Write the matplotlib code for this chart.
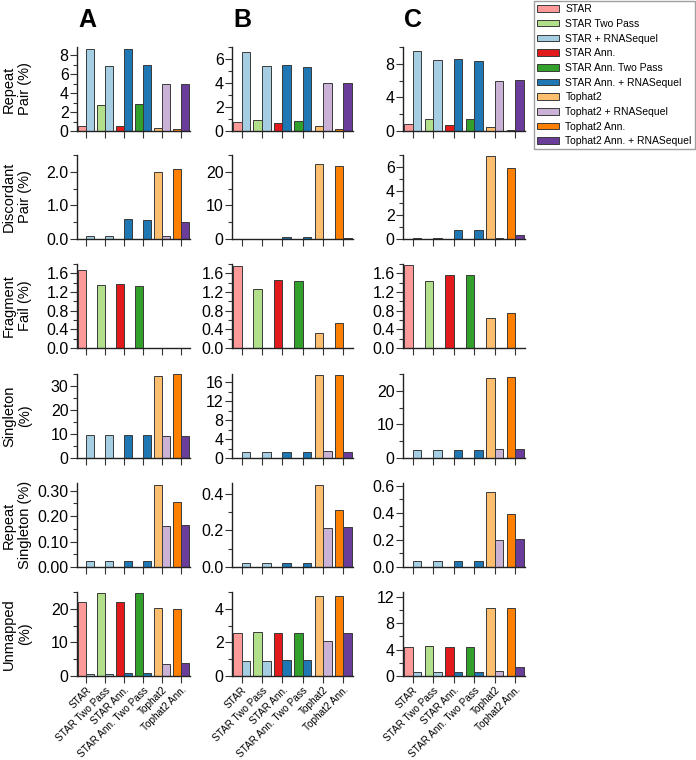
import matplotlib.pyplot as plt
import matplotlib.ticker as mticker
from matplotlib.patches import Patch

plt.rcParams['font.family'] = ['Liberation Sans', 'DejaVu Sans']

# x categories (one pair of bars per aligner)
aligners = ['STAR', 'STAR Two Pass', 'STAR Ann.', 'STAR Ann. Two Pass', 'Tophat2', 'Tophat2 Ann.']
legend_labels = ['STAR', 'STAR Two Pass', 'STAR + RNASequel', 'STAR Ann.', 'STAR Ann. Two Pass',
                 'STAR Ann. + RNASequel', 'Tophat2', 'Tophat2 + RNASequel', 'Tophat2 Ann.',
                 'Tophat2 Ann. + RNASequel']
metrics = ['Repeat\nPair (%)', 'Discordant\nPair (%)', 'Fragment\nFail (%)', 'Singleton\n(%)',
           'Repeat\nSingleton (%)', 'Unmapped\n(%)']
panels = ['A', 'B', 'C']

# panel A: aligner alone / aligner + RNASequel
a_repeat_pair = [0.55, 2.7, 0.5, 2.8, 0.3, 0.25]
a_repeat_pair_rs = [8.6, 6.9, 8.6, 7.0, 4.9, 5.0]
a_discordant = [0, 0, 0, 0, 2.0, 2.09]
a_discordant_rs = [0.09, 0.09, 0.59, 0.58, 0.1, 0.52]
a_frag_fail = [1.67, 1.36, 1.38, 1.33, 0, 0]
a_frag_fail_rs = [0, 0, 0, 0, 0, 0]
a_singleton = [0, 0, 0, 0, 34.3, 34.8]
a_singleton_rs = [9.4, 9.6, 9.5, 9.7, 9.1, 9.1]
a_rep_singleton = [0, 0, 0, 0, 0.324, 0.255]
a_rep_singleton_rs = [0.022, 0.022, 0.022, 0.022, 0.163, 0.165]
a_unmapped = [22.0, 24.6, 22.0, 24.6, 20.3, 19.9]
a_unmapped_rs = [0.7, 0.7, 0.8, 0.8, 3.7, 3.8]

# panel B
b_repeat_pair = [0.77, 0.93, 0.66, 0.83, 0.44, 0.17]
b_repeat_pair_rs = [6.55, 5.43, 5.5, 5.37, 4.0, 4.0]
b_discordant = [0, 0, 0, 0, 22.4, 21.7]
b_discordant_rs = [0.05, 0.05, 0.7, 0.7, 0.1, 0.2]
b_frag_fail = [1.75, 1.255, 1.45, 1.43, 0.33, 0.54]
b_frag_fail_rs = [0, 0, 0, 0, 0, 0]
b_singleton = [0, 0, 0, 0, 17.5, 17.5]
b_singleton_rs = [1.2, 1.2, 1.2, 1.2, 1.4, 1.35]
b_rep_singleton = [0, 0, 0, 0, 0.449, 0.314]
b_rep_singleton_rs = [0.021, 0.021, 0.021, 0.021, 0.215, 0.22]
b_unmapped = [2.55, 2.61, 2.53, 2.53, 4.75, 4.75]
b_unmapped_rs = [0.88, 0.88, 0.96, 0.94, 2.1, 2.55]

# panel C
c_repeat_pair = [0.85, 1.44, 0.72, 1.4, 0.5, 0.1]
c_repeat_pair_rs = [9.55, 8.42, 8.63, 8.35, 6.0, 6.1]
c_discordant = [0, 0, 0, 0, 6.95, 5.95]
c_discordant_rs = [0.05, 0.05, 0.73, 0.73, 0.1, 0.35]
c_frag_fail = [1.78, 1.44, 1.57, 1.57, 0.64, 0.76]
c_frag_fail_rs = [0, 0, 0, 0, 0, 0]
c_singleton = [0, 0, 0, 0, 23.7, 24.1]
c_singleton_rs = [2.3, 2.4, 2.4, 2.4, 2.7, 2.7]
c_rep_singleton = [0, 0, 0, 0, 0.557, 0.388]
c_rep_singleton_rs = [0.044, 0.044, 0.044, 0.044, 0.198, 0.203]
c_unmapped = [4.4, 4.56, 4.4, 4.4, 10.25, 10.35]
c_unmapped_rs = [0.6, 0.6, 0.6, 0.6, 0.8, 1.35]

data = [
    [(a_repeat_pair, a_repeat_pair_rs), (a_discordant, a_discordant_rs), (a_frag_fail, a_frag_fail_rs),
     (a_singleton, a_singleton_rs), (a_rep_singleton, a_rep_singleton_rs), (a_unmapped, a_unmapped_rs)],
    [(b_repeat_pair, b_repeat_pair_rs), (b_discordant, b_discordant_rs), (b_frag_fail, b_frag_fail_rs),
     (b_singleton, b_singleton_rs), (b_rep_singleton, b_rep_singleton_rs), (b_unmapped, b_unmapped_rs)],
    [(c_repeat_pair, c_repeat_pair_rs), (c_discordant, c_discordant_rs), (c_frag_fail, c_frag_fail_rs),
     (c_singleton, c_singleton_rs), (c_rep_singleton, c_rep_singleton_rs), (c_unmapped, c_unmapped_rs)],
]

base_colors = ['#fb9a99', '#b2df8a', '#e31a1c', '#33a02c', '#fdbf6f', '#ff7f00']
rs_colors = ['#a6cee3', '#a6cee3', '#1f78b4', '#1f78b4', '#cab2d6', '#6a3d9a']
legend_colors = ['#fb9a99', '#b2df8a', '#a6cee3', '#e31a1c', '#33a02c', '#1f78b4',
                 '#fdbf6f', '#cab2d6', '#ff7f00', '#6a3d9a']

# axis settings: (ymax, major, minor, format) per column / row
axis_cfg = [
    [(8.85, 2, 1, '%d'), (2.5, 1.0, 0.5, '%.1f'), (1.8, 0.4, 0.2, '%.1f'),
     (35, 10, 5, '%d'), (0.33, 0.1, 0.05, '%.2f'), (25, 10, 5, '%d')],
    [(7.0, 2, 1, '%d'), (25, 10, 5, '%d'), (1.8, 0.4, 0.2, '%.1f'),
     (17.8, 4, 2, '%d'), (0.46, 0.2, 0.1, '%.1f'), (5.0, 2, 1, '%d')],
    [(10, 4, 2, '%d'), (7, 2, 1, '%d'), (1.8, 0.4, 0.2, '%.1f'),
     (25, 10, 5, '%d'), (0.62, 0.2, 0.1, '%.1f'), (12.7, 4, 2, '%d')],
]

W, H = 696, 760
col_left = [77, 232, 403]
col_width = [113, 121, 122]
row_top = [47, 155, 264, 374, 483, 592]
row_h = 84

fig = plt.figure(figsize=(W / 100, H / 100), dpi=100)
bw = 0.42
x = list(range(len(aligners)))

for c in range(3):
    for r in range(6):
        ax = fig.add_axes([col_left[c] / W, 1 - (row_top[r] + row_h) / H, col_width[c] / W, row_h / H])
        base, rs = data[c][r]
        ax.bar([i - bw / 2 for i in x], base, bw, color=base_colors, edgecolor='#3a3a3a', linewidth=0.7)
        ax.bar([i + bw / 2 for i in x], rs, bw, color=rs_colors, edgecolor='#3a3a3a', linewidth=0.7)
        ymax, major, minor, fmt = axis_cfg[c][r]
        ax.set_ylim(0, ymax)
        ax.set_xlim(-0.47, 5.47)
        ax.yaxis.set_major_locator(mticker.MultipleLocator(major))
        ax.yaxis.set_minor_locator(mticker.MultipleLocator(minor))
        ax.yaxis.set_major_formatter(mticker.FormatStrFormatter(fmt))
        ax.set_xticks(x)
        for s in ['top', 'right']:
            ax.spines[s].set_visible(False)
        for s in ['left', 'bottom']:
            ax.spines[s].set_color('#222222')
            ax.spines[s].set_linewidth(1.0)
        ax.tick_params(axis='y', which='major', length=5, width=0.8, labelsize=11.5, pad=1, color='#333333')
        ax.tick_params(axis='y', which='minor', length=3, width=0.8, color='#333333')
        ax.tick_params(axis='x', length=5, width=0.8, color='#333333', pad=1.5)
        if r == 5:
            ax.set_xticklabels(aligners, rotation=45, ha='right', rotation_mode='anchor', fontsize=7.2)
        else:
            ax.set_xticklabels([])
        if c == 0:
            fig.text(17 / W, 1 - (row_top[r] + row_h / 2) / H, metrics[r], rotation=90,
                     ha='center', va='center', multialignment='center', fontsize=10.5)
    fig.text((col_left[c] + 10) / W, 1 - 20 / H, panels[c], fontsize=18, fontweight='bold',
             ha='center', va='center')

handles = [Patch(facecolor=col, edgecolor='#3a3a3a', linewidth=0.7) for col in legend_colors]
fig.legend(handles, legend_labels, loc='upper right', bbox_to_anchor=(1.0, 1.0), fontsize=7.5,
           frameon=True, fancybox=False, edgecolor='#888888', labelspacing=0.45,
           handlelength=2.1, handleheight=0.6, handletextpad=0.6, borderpad=0.3, borderaxespad=0.1)

fig.savefig('out.png', dpi=100)
